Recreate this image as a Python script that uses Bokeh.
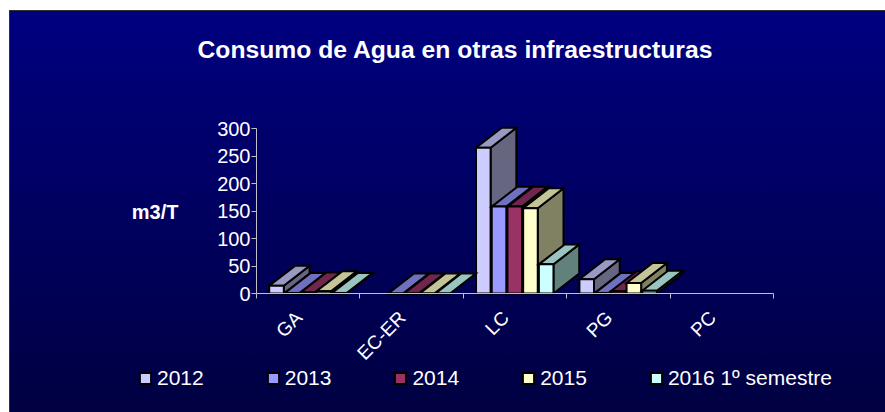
from bokeh.plotting import figure
from bokeh.models import (Range1d, LinearAxis, FixedTicker, Label,
                          Legend, LegendItem, ColumnDataSource, InlineStyleSheet)
from bokeh.embed import file_html
from bokeh.resources import INLINE

# ---------------- data ----------------
categories = ["GA", "EC-ER", "LC", "PG", "PC"]
series_names = ["2012", "2013", "2014", "2015", "2016 1º semestre"]
values_2012 = [14, None, 265, 26, None]
values_2013 = [1, 0, 158, 1, None]
values_2014 = [2, 0, 158, 4, None]
values_2015 = [4, 0, 155, 19, None]
values_2016 = [1, 0, 53, 5, None]
y_ticks = [0, 50, 100, 150, 200, 250, 300]
title_text = "Consumo de Agua en otras infraestructuras"
y_label = "m3/T"

# ---------------- style / layout constants ----------------
front_colors = ["#CCCCFF", "#9999FF", "#993366", "#FFFFCC", "#CCFFFF"]
top_colors = ["#9999C4", "#7070C0", "#70264D", "#C4C499", "#99C4C0"]
side_colors = ["#666680", "#4D4D80", "#4D1A33", "#808062", "#62807C"]
FONT = "Liberation Sans"
W, H = 885, 412
X0_PX, PX_PER_CAT = 256, 103.4     # pixel of category axis start, pixels per category
Y0_PX, PX_PER_UNIT = 293, 0.55     # pixel of value 0, pixels per m3/T

def px_x(px):
    return (px - X0_PX) / PX_PER_CAT

def px_y(py):
    return (Y0_PX - py) / PX_PER_UNIT

margin = 0.123   # gap before first bar in a category (category units)
stride = 0.152
bar_w = 0.141
depth_x = 0.249  # 3D depth (category units)
depth_y = 36.3   # 3D depth (value units)
label_shift = -0.09

n_cat = len(categories)
p = figure(x_range=Range1d(px_x(0), px_x(W)), y_range=Range1d(px_y(H), px_y(0)),
           width=W, height=H,
           min_border_left=0, min_border_right=0, min_border_top=0, min_border_bottom=0,
           output_backend="svg", toolbar_location=None,
           x_axis_location=None, y_axis_location="left", title=None)

p.background_fill_alpha = 0
p.border_fill_alpha = 0
p.outline_line_color = None
p.grid.grid_line_color = None
p.stylesheets = [InlineStyleSheet(css=(
    ":host { background:"
    " linear-gradient(#303030, #303030) 9px 10px / 100% 1px no-repeat,"
    " linear-gradient(#303030, #303030) 9px 10px / 1px 100% no-repeat,"
    " linear-gradient(to bottom, #000080 0%, #000040 100%) 10px 11px / 100% 100% no-repeat,"
    " white; }"))]

# y axis (drawn at x = 0 of the category axis)
ya = p.yaxis[0]
ya.fixed_location = 0
ya.ticker = FixedTicker(ticks=y_ticks)
ya.bounds = (0, 300)
ya.axis_line_color = "#C0C0C8"
ya.major_tick_line_color = "#C0C0C8"
ya.major_tick_out = 5
ya.major_tick_in = 0
ya.minor_tick_line_color = None
ya.major_label_standoff = 1
ya.major_label_text_color = "white"
ya.major_label_text_font = FONT
ya.major_label_text_font_size = "20px"

# x axis: labels at category centres, tick marks at category boundaries
label_pos = [i + 0.5 + label_shift for i in range(n_cat)]
edges = list(range(n_cat + 1))
xa = LinearAxis(fixed_location=0, bounds=(0, n_cat),
                ticker=FixedTicker(ticks=label_pos, minor_ticks=edges),
                major_label_overrides={c: name for c, name in zip(label_pos, categories)},
                axis_line_color="#C0C0C8",
                major_tick_line_color=None, major_tick_out=0, major_tick_in=0,
                minor_tick_line_color="#C0C0C8", minor_tick_out=5, minor_tick_in=0,
                major_label_orientation=0.7854,
                major_label_standoff=16,
                major_label_text_color="white",
                major_label_text_font=FONT,
                major_label_text_font_size="19px")
p.add_layout(xa, "below")

# title and value-axis caption
p.add_layout(Label(x=px_x(197), y=px_y(49), text=title_text,
                   text_color="white", text_font=FONT, text_font_size="24.7px",
                   text_font_style="bold", text_align="left", text_baseline="alphabetic"))
p.add_layout(Label(x=px_x(178), y=px_y(211), text=y_label,
                   text_color="white", text_font=FONT, text_font_size="20px",
                   text_font_style="bold", text_align="right", text_baseline="middle"))

# ---------------- bars (3D look) ----------------
all_values = [values_2012, values_2013, values_2014, values_2015, values_2016]
renderers = []
for j, vals in enumerate(all_values):
    xs, ys, colors = [], [], []
    for i, v in enumerate(vals):
        if v is None:
            continue
        xl = i + margin + j * stride
        xr = xl + bar_w
        # side face
        xs.append([xr, xr + depth_x, xr + depth_x, xr])
        ys.append([0, depth_y, v + depth_y, v])
        colors.append(side_colors[j])
        # top face
        xs.append([xl, xr, xr + depth_x, xl + depth_x])
        ys.append([v, v, v + depth_y, v + depth_y])
        colors.append(top_colors[j])
        # front face
        xs.append([xl, xr, xr, xl])
        ys.append([0, 0, v, v])
        colors.append(front_colors[j])
    src = ColumnDataSource(dict(xs=xs, ys=ys, color=colors))
    r = p.patches(xs="xs", ys="ys", source=src, fill_color="color",
                  line_color="black", line_width=2, line_join="miter")
    renderers.append(r)

legend = Legend(items=[LegendItem(label=name, renderers=[r], index=2)
                       for name, r in zip(series_names, renderers)],
                orientation="horizontal", location=(138, 22),
                glyph_width=14, glyph_height=14, label_standoff=5, spacing=62,
                padding=0, margin=0,
                background_fill_alpha=0, border_line_alpha=0,
                label_text_color="white", label_text_font=FONT,
                label_text_font_size="21px")
p.add_layout(legend)

open("out.html", "w").write(file_html(p, INLINE, title=title_text))
